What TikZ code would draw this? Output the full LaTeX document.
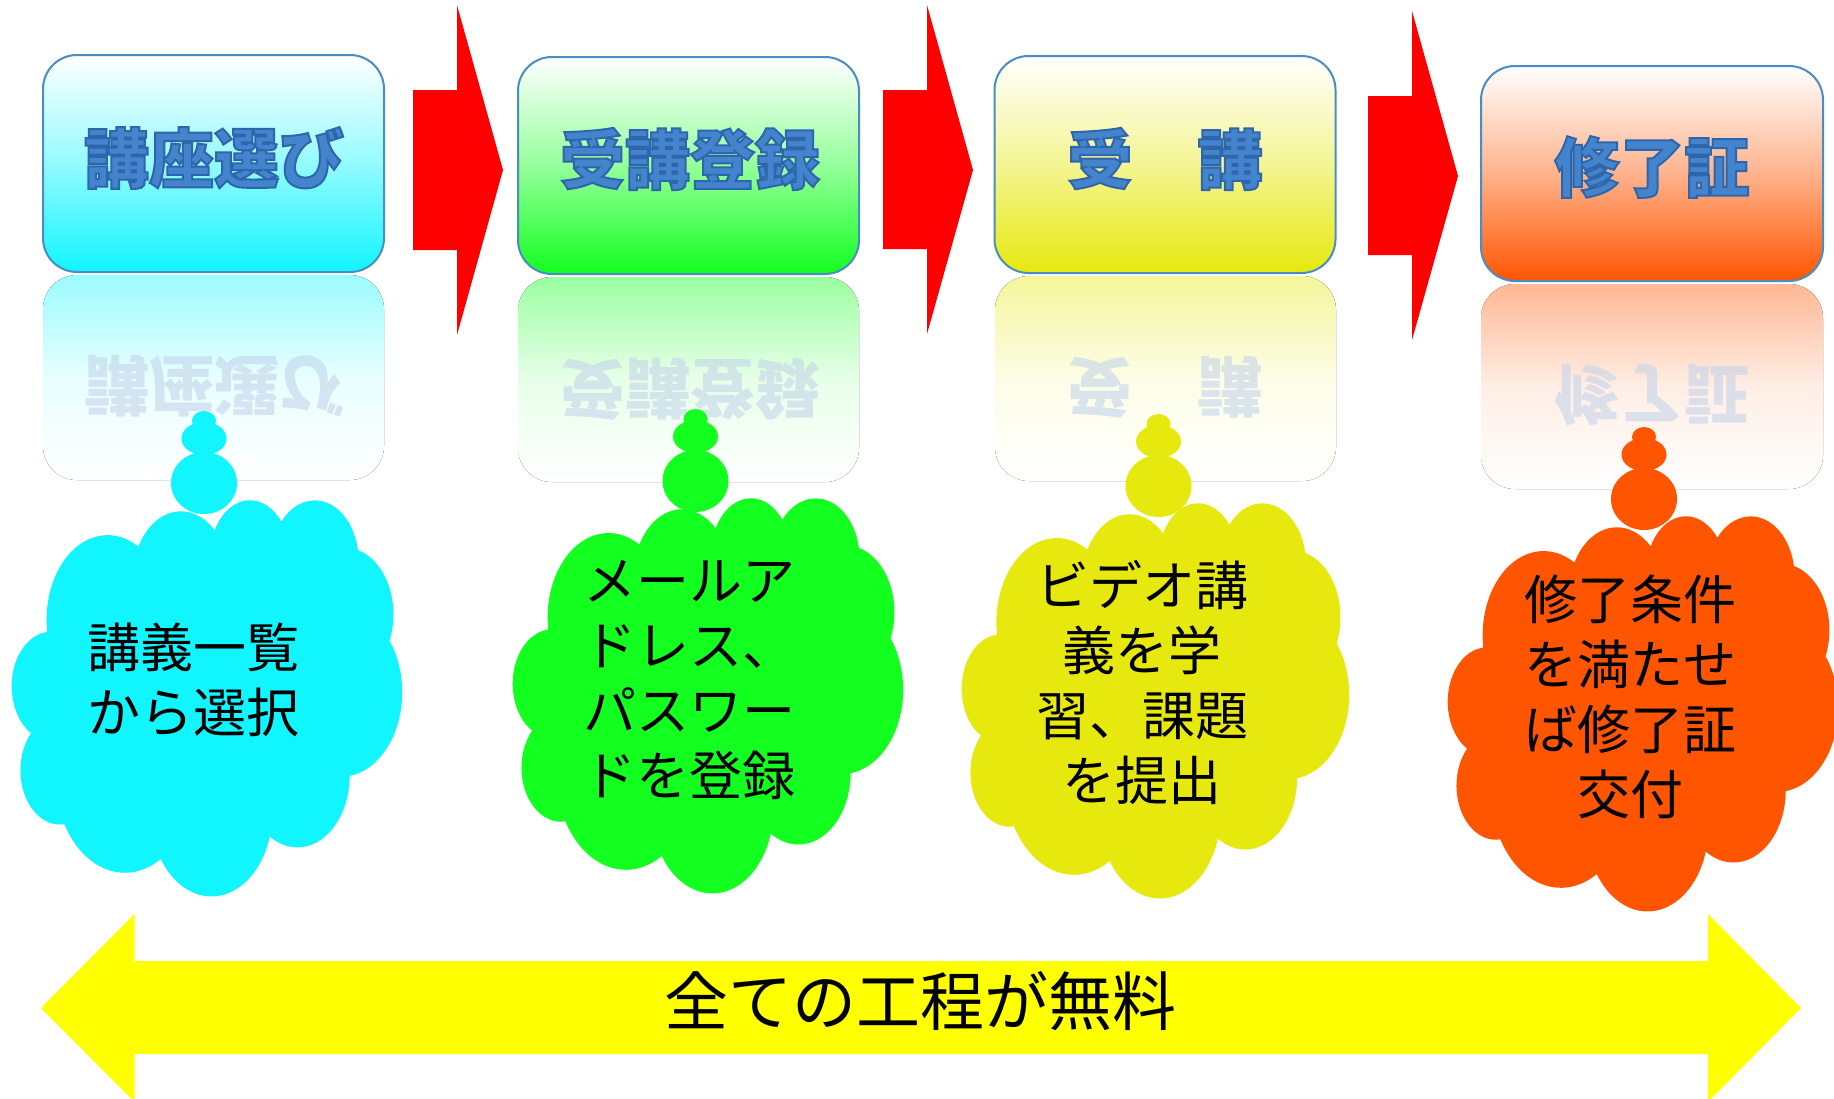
\documentclass[tikz,border=0pt]{standalone}
\usepackage{fontspec}
\newfontfamily\jp{Noto Sans CJK JP}
\definecolor{cyanC}{RGB}{16,245,255}
\definecolor{greenC}{RGB}{18,255,32}
\definecolor{yellowC}{RGB}{230,232,14}
\definecolor{orangeC}{RGB}{255,85,0}
\definecolor{boxline}{RGB}{74,140,196}
\definecolor{titleblue}{RGB}{68,132,204}
\definecolor{reflblue}{RGB}{196,212,234}
\definecolor{arrowred}{RGB}{255,0,0}
\definecolor{bandyellow}{RGB}{255,255,0}
% DrawingML arc (visual angles) converted to a TikZ parametric arc
\newcommand\carc[4]{arc[x radius=#1, y radius=#2,
  start angle={atan2((#1)*sin(#3),(#2)*cos(#3))},
  delta angle={mod(atan2((#1)*sin((#3)+(#4)),(#2)*cos((#3)+(#4)))-atan2((#1)*sin(#3),(#2)*cos(#3))+720,360)}]}
\newcommand\pptcloud[5]{%
  \pgfmathsetmacro\cloudxu{#3/43.2}%
  \pgfmathsetmacro\cloudyu{#4/43.2}%
  \begin{scope}[shift={(#1,#2)}, x=\cloudxu pt, y=-\cloudyu pt]
    \fill[#5] (3.9,14.37) \carc{6.753}{9.19}{-190.487483}{123.780533}
      \carc{5.333}{7.267}{-144.102383}{89.945233}
      \carc{4.365}{5.945}{-145.807917}{99.723017}
      \carc{4.857}{6.595}{-130.986067}{117.241733}
      \carc{5.333}{7.273}{-78.708883}{109.026917}
      \carc{6.775}{9.22}{-46.26725}{130.269}
      \carc{5.785}{7.867}{0.625017}{114.033333}
      \carc{6.752}{9.215}{22.4516}{115.17255}
      \carc{7.72}{10.543}{66.242633}{75.711017}
      \carc{4.36}{5.918}{-274.942083}{146.735567}
      \carc{4.345}{5.945}{-246.8285}{152.51885} -- cycle;
  \end{scope}}
\newcommand\cloudtail[3]{%
  \fill[#3] (#1,#2-62) ellipse [x radius=12, y radius=10];
  \fill[#3] (#1,#2-44.5) ellipse [x radius=22.5, y radius=16.5];
  \fill[#3] (#1,#2) ellipse [x radius=33, y radius=31];}
\newcommand\outlined[1]{\special{pdf:literal direct 2 Tr 2 w 0.18 0.40 0.68 RG}#1\special{pdf:literal direct 0 Tr}}
\tikzset{
  stepbox/.style={draw=boxline, line width=2pt, rounded corners=34pt,
    top color=white, bottom color=#1, middle color=#1!45!white,
    inner sep=0pt},
  reflbox/.style={rounded corners=34pt, top color=#1!42!white, bottom color=white, middle color=#1!10!white},
  titletext/.style={font={\jp\bfseries\fontsize{65}{70}\selectfont}, text=titleblue, inner sep=0pt},
  refltext/.style={font={\jp\bfseries\fontsize{65}{70}\selectfont}, text=reflblue, opacity=0.6,
    yscale=-1, transform shape, inner sep=0pt},
  cloudtext/.style={font={\jp\fontsize{53}{65}\selectfont}, align=center, text=black, inner sep=0pt},
  blockarrow/.style={fill=arrowred},
}
\begin{document}
\begin{tikzpicture}[x=1pt, y=-1pt]
\useasboundingbox (0,0) rectangle (1834,1098);
\fill[white] (0,0) rectangle (1834,1098);
% reflections
\fill[reflbox=cyanC] (43,275) rectangle (384,480);
\fill[reflbox=greenC] (518,277) rectangle (859,482);
\fill[reflbox=yellowC] (995,276) rectangle (1336,481);
\fill[reflbox=orangeC] (1481,284) rectangle (1823,489);
\node[refltext] (r1) at (214,386) {講座選び};
\node[refltext] (r2) at (690,389) {受講登録};
\node[refltext] (r3) at (1165,387) {受　講};
\node[refltext] (r4) at (1652,395) {修了証};
% boxes
\node[stepbox=cyanC, minimum width=341pt, minimum height=217pt] (b1) at (213.5,163.5) {};
\node[stepbox=greenC, minimum width=341pt, minimum height=217pt] (b2) at (688.5,165.5) {};
\node[stepbox=yellowC, minimum width=341pt, minimum height=217pt] (b3) at (1165,164.5) {};
\node[stepbox=orangeC, minimum width=342pt, minimum height=215pt] (b4) at (1652,173.5) {};
\node[titletext] (t1) at (214,158) {\outlined{講座選び}};
\node[titletext] (t2) at (690,159) {\outlined{受講登録}};
\node[titletext] (t3) at (1165,159) {\outlined{受　講}};
\node[titletext] (t4) at (1652,167) {\outlined{修了証}};
% red block arrows
\fill[blockarrow] (413,90) -- (457,90) -- (457,5) -- (503,170) -- (457,335) -- (457,250) -- (413,250) -- cycle;
\fill[blockarrow] (883,90) -- (927,90) -- (927,5) -- (973,170) -- (927,334) -- (927,249) -- (883,249) -- cycle;
\fill[blockarrow] (1368,96) -- (1412,96) -- (1412,11) -- (1458,176) -- (1412,340) -- (1412,255) -- (1368,255) -- cycle;
% clouds
\pptcloud{12}{499}{390}{396}{cyanC}
\cloudtail{204}{483}{cyanC}
\pptcloud{513}{497}{390}{395}{greenC}
\cloudtail{695.5}{481}{greenC}
\pptcloud{962}{502}{387}{395}{yellowC}
\cloudtail{1158.5}{486}{yellowC}
\pptcloud{1448}{515}{390}{395}{orangeC}
\cloudtail{1644}{499}{orangeC}
\node[cloudtext] (c1) at (193,680) {講義一覧\\から選択};
\node[cloudtext] (c2) at (689,680) {メールア\\ドレス、\\パスワー\\ドを登録};
\node[cloudtext] (c3) at (1142,683) {ビデオ講\\義を学\\習、課題\\を提出};
\node[cloudtext] (c4) at (1630,697) {修了条件\\を満たせ\\ば修了証\\交付};
% bottom double arrow
\fill[bandyellow] (41,1008) -- (134.5,914) -- (134.5,961) -- (1708,961) -- (1708,914) -- (1801,1008)
  -- (1708,1102) -- (1708,1054) -- (134.5,1054) -- (134.5,1102) -- cycle;
\node[font={\jp\fontsize{64}{70}\selectfont}, inner sep=0pt] (free) at (920,1001) {全ての工程が無料};
\end{tikzpicture}
\end{document}
